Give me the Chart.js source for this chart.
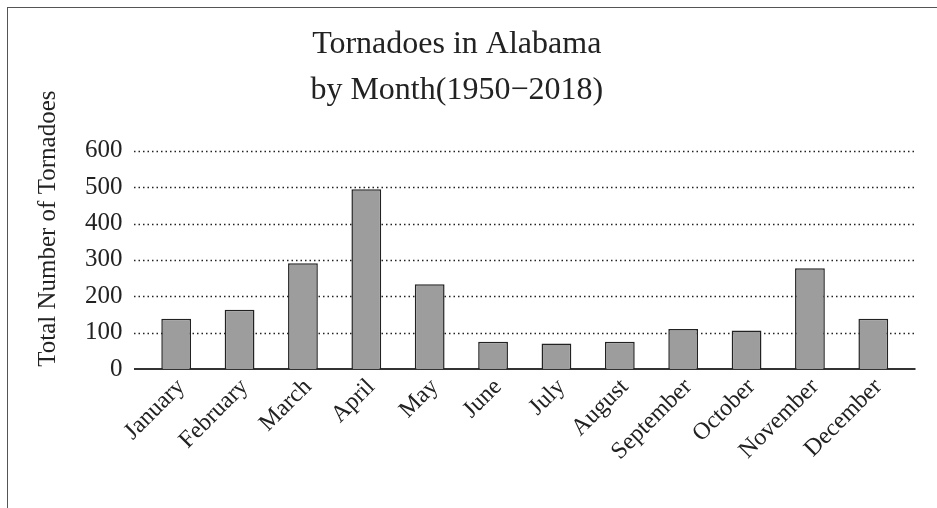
<!DOCTYPE html>
<html>
<head>
<meta charset="utf-8">
<script src="https://cdn.jsdelivr.net/npm/chart.js@4"></script>
<style>
    body { margin: 0; background: #fff; }
    #wrap { position: relative; width: 937px; height: 508px; }
    #frame {
        position: absolute; left: 7px; top: 7px; right: 0; bottom: 0;
        border-left: 1.5px solid #555; border-top: 1.5px solid #555;
    }
    canvas { position: absolute; left: 0; top: 0; }
</style>
</head>
<body>
<div id="wrap">
    <div id="frame"></div>
    <canvas id="tornadoChart" width="937" height="508"></canvas>
</div>
<script>
const months = ["January", "February", "March", "April", "May", "June",
    "July", "August", "September", "October", "November", "December"];
const tornadoCounts = [138, 163, 291, 494, 233, 75, 70, 75, 110, 106, 277, 138];
const yTicks = [0, 100, 200, 300, 400, 500, 600];

const serif = "'Liberation Serif', 'Times New Roman', serif";

// dotted grid lines and solid zero line, running a little past the bars on both sides
const gridPlugin = {
    id: "extendedGrid",
    beforeDatasetsDraw: function (chart) {
        const c = chart.ctx;
        const area = chart.chartArea;
        const y = chart.scales.y;
        const left = area.left - 10.5;
        const right = area.right + 10.5;
        c.save();
        c.strokeStyle = "#222";
        c.lineWidth = 1.5;
        c.setLineDash([1.5, 3]);
        yTicks.forEach(function (v) {
            if (v === 0) return;
            const py = Math.round(y.getPixelForValue(v)) + 0.5;
            c.beginPath();
            c.moveTo(left, py);
            c.lineTo(right, py);
            c.stroke();
        });
        c.setLineDash([]);
        c.lineWidth = 2;
        c.strokeStyle = "#333";
        const py0 = y.getPixelForValue(0);
        c.beginPath();
        c.moveTo(left, py0);
        c.lineTo(right, py0);
        c.stroke();
        c.restore();
    },
};

document.addEventListener("DOMContentLoaded", function () {
    const ctx = document.getElementById("tornadoChart");
    new Chart(ctx, {
        type: "bar",
        data: {
            labels: months,
            datasets: [
                {
                    label: "Tornadoes",
                    data: tornadoCounts,
                    backgroundColor: "#9d9d9d",
                    borderColor: "#222",
                    borderWidth: 1.5,
                    categoryPercentage: 1,
                    barPercentage: 0.47,
                },
            ],
        },
        options: {
            responsive: false,
            animation: false,
            layout: {
                autoPadding: false,
                padding: { top: 21, left: 8.5, right: 32, bottom: 38 },
            },
            plugins: {
                legend: { display: false },
                tooltip: { enabled: false },
                title: {
                    display: true,
                    text: ["Tornadoes in Alabama", "by Month(1950\u22122018)"],
                    color: "#222",
                    font: { family: serif, size: 32, weight: "normal", lineHeight: 1.45 },
                    padding: { top: 0, bottom: 37 },
                },
            },
            scales: {
                x: {
                    grid: { display: false, drawTicks: false },
                    border: { display: false },
                    ticks: {
                        color: "#222",
                        font: { family: serif, size: 24 },
                        minRotation: 45,
                        maxRotation: 45,
                        padding: 4,
                        labelOffset: 5,
                    },
                },
                y: {
                    min: 0,
                    max: 600,
                    afterBuildTicks: function (axis) {
                        axis.ticks = yTicks.map(function (v) { return { value: v }; });
                    },
                    grid: { display: false, drawTicks: false },
                    border: { display: false },
                    ticks: {
                        color: "#222",
                        font: { family: serif, size: 25 },
                        padding: 22,
                    },
                    title: {
                        display: true,
                        // leading spaces lift the centred title a bit, as in the original
                        text: "\u00a0".repeat(10) + "Total Number of Tornadoes",
                        color: "#222",
                        font: { family: serif, size: 25 },
                        padding: { top: 24.5, bottom: 0 },
                    },
                },
            },
        },
        plugins: [gridPlugin],
    });
});
</script>
</body>
</html>
